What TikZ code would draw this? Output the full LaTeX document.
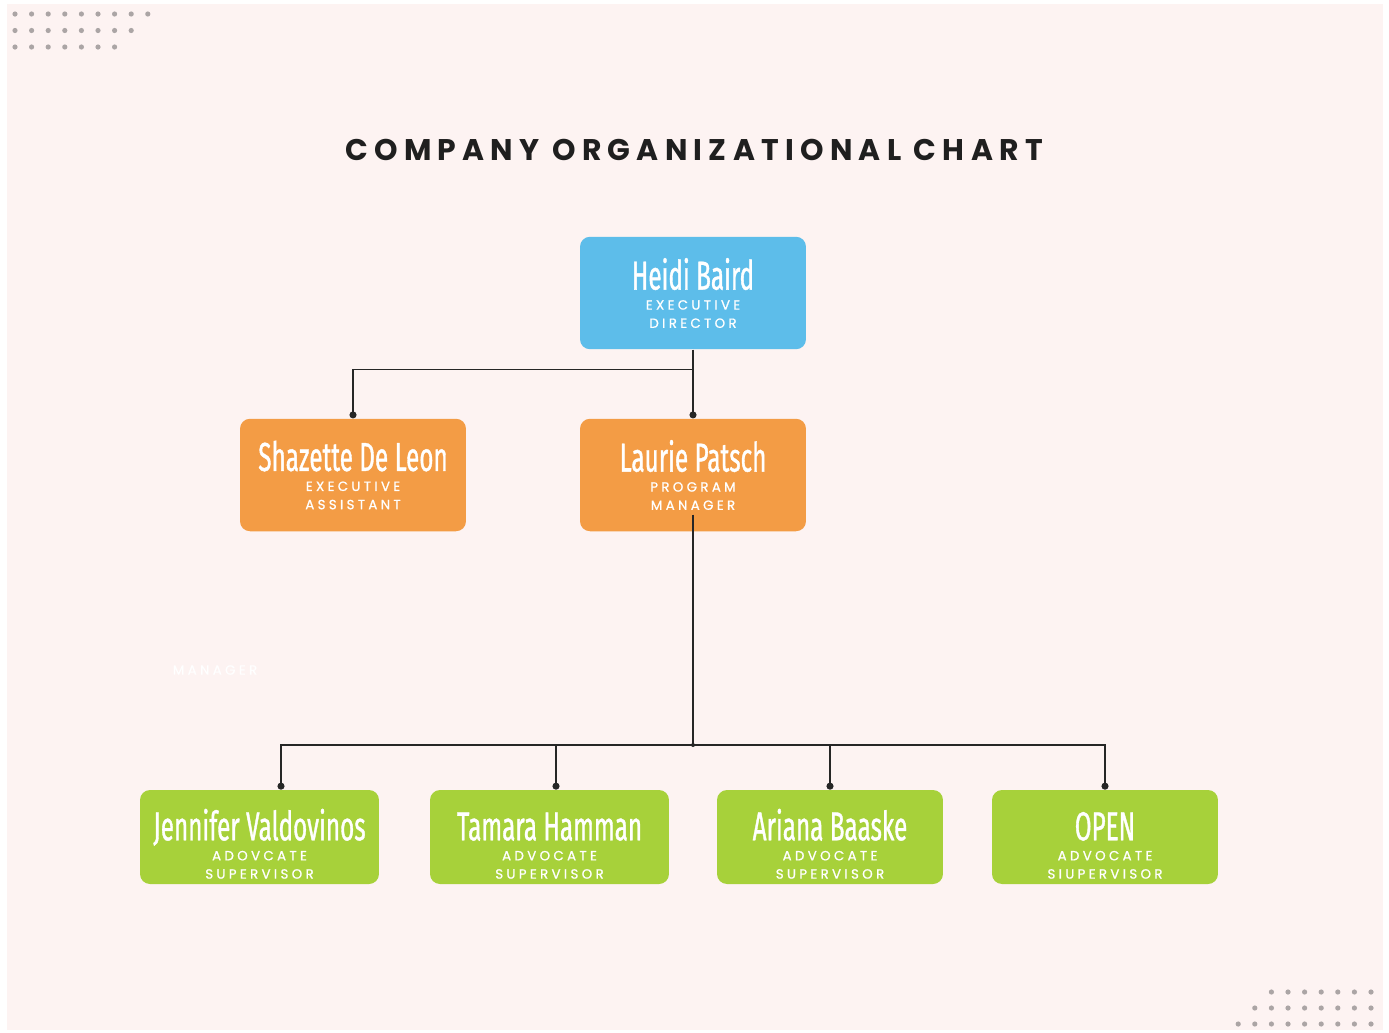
\documentclass[tikz,border=0pt]{standalone}
\usepackage{fontspec}
\usetikzlibrary{arrows.meta, positioning, calc}

\newfontfamily\titlefont[LetterSpace=21]{Poppins}
\newfontfamily\rolefont[LetterSpace=25, FakeBold=0.9]{Poppins}
\newfontfamily\namefont[FakeStretch=0.6, FakeBold=0.9]{Fira Sans}

\definecolor{pagebg}{HTML}{FDF3F2}
\definecolor{dotgray}{HTML}{ABA5A5}
\definecolor{execblue}{HTML}{5DBDEA}
\definecolor{midorange}{HTML}{F39C45}
\definecolor{leafgreen}{HTML}{A7D13A}

% taller first line pushes green card text down
\newcommand\leafstrut{\rule{0pt}{0.9cm}}

\begin{document}
\begin{tikzpicture}[
    x=0.02cm, y=-0.02cm,
    % Node styles
    card/.style={
        rectangle, rounded corners=0.2cm,
        minimum width=4.52cm, minimum height=2.25cm,
        inner sep=0pt, align=center, text=white,
        font=\rolefont\fontsize{7.6}{10.4}\selectfont,
        fill=#1,
    },
    card/.default=execblue,
    leaf/.style={
        card=leafgreen, minimum height=1.88cm,
    },
    title/.style={
        font=\titlefont\bfseries\fontsize{17}{20}\selectfont, text=black!88,
    },
    link/.style={
        draw=black!85, line width=0.7pt,
    },
    joint/.style={
        link, -{Circle[length=4pt]},
    },
]

% === Page ===
\fill[white] (0,0) rectangle (1389,1032);
\fill[pagebg] (7,4) rectangle (1383,1030);
\useasboundingbox (0,0) rectangle (1389,1032);

% === Dot patterns ===
\foreach \row/\n in {0/9, 1/8, 2/7}
    \foreach \i in {1,...,\n}
        \fill[dotgray] ({15+16.6*(\i-1)}, {14+16.5*\row}) circle (2.6);
\foreach \row/\n in {0/7, 1/8, 2/9}
    \foreach \i in {1,...,\n}
        \fill[dotgray] ({1371-16.6*(\i-1)}, {992+16*\row}) circle (2.6);

% === Title ===
\node[title] (chart-title) at (694,150) {COMPANY ORGANIZATIONAL CHART};

% === Level 1 ===
\node[card] (heidi) at (693,293) {{\namefont\fontsize{23}{24}\selectfont Heidi Baird}\\[1pt]EXECUTIVE\\DIRECTOR};

% === Level 2 ===
\node[card=midorange] (shazette) at (353,475) {{\namefont\fontsize{23}{24}\selectfont Shazette De Leon}\\[1pt]EXECUTIVE\\ASSISTANT};
\node[card=midorange] (laurie)   at (693,475) {{\namefont\fontsize{23}{24}\selectfont Laurie Patsch}\\[1pt]PROGRAM\\MANAGER};

% faint leftover text
\node[font=\rolefont\fontsize{7.6}{10}\selectfont, text=white] (stray) at (215,670) {MANAGER};

% === Level 3 ===
\node[leaf, minimum width=4.78cm] (jennifer) at (259.5,837) {{\namefont\fontsize{23}{24}\selectfont\leafstrut Jennifer Valdovinos}\\[1pt]ADOVCATE\\SUPERVISOR};
\node[leaf, minimum width=4.78cm] (tamara)   at (549.5,837) {{\namefont\fontsize{23}{24}\selectfont\leafstrut Tamara Hamman}\\[1pt]ADVOCATE\\SUPERVISOR};
\node[leaf] (ariana) at (830,837)  {{\namefont\fontsize{23}{24}\selectfont\leafstrut Ariana Baaske}\\[1pt]ADVOCATE\\SUPERVISOR};
\node[leaf] (open)   at (1105,837) {{\namefont\fontsize{23}{24}\selectfont\leafstrut OPEN}\\[1pt]ADVOCATE\\SIUPERVISOR};

% === Edges: level 1 to level 2 ===
\draw[link] (heidi.south) -- ++(0,20) coordinate (split);
\draw[joint] (split) -| (shazette.north);
\draw[joint] (split) -- (laurie.north);

% === Edges: level 2 to level 3 ===
\draw[link] ([yshift=0.34cm]laurie.south) -- (laurie.south |- 0,745) coordinate (bus);
\fill[black!85] (bus) circle (2);
\draw[joint] (bus) -| ([xshift=0.43cm]jennifer.north);
\draw[joint] (bus) -| ([xshift=0.13cm]tamara.north);
\draw[joint] (bus) -| (ariana.north);
\draw[joint] (bus) -| (open.north);

\end{tikzpicture}
\end{document}
